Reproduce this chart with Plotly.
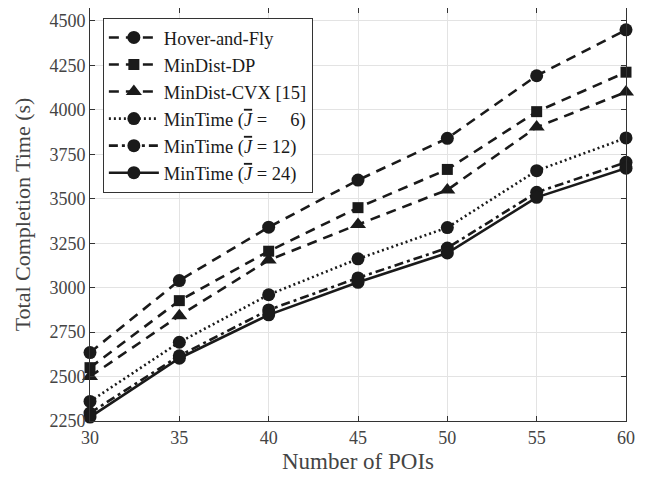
import plotly.graph_objects as go

pois = [30, 35, 40, 45, 50, 55, 60]
hover_and_fly = [2635, 3040, 3340, 3605, 3840, 4192, 4450]
mindist_dp = [2550, 2927, 3205, 3450, 3665, 3990, 4212]
mindist_cvx = [2500, 2842, 3155, 3355, 3550, 3903, 4100]
mintime_j6 = [2360, 2693, 2960, 3162, 3338, 3658, 3842]
mintime_j12 = [2295, 2617, 2875, 3055, 3223, 3536, 3705]
mintime_j24 = [2272, 2603, 2847, 3030, 3195, 3508, 3672]

jbar = '<i><span style="text-decoration:overline">J</span></i>'
series = [
    ("Hover-and-Fly", hover_and_fly, "dash", "circle"),
    ("MinDist-DP", mindist_dp, "dash", "square"),
    ("MinDist-CVX [15]", mindist_cvx, "dash", "triangle-up"),
    ("MinTime (" + jbar + " = \u2007\u20076)", mintime_j6, "dot", "circle"),
    ("MinTime (" + jbar + " = 12)", mintime_j12, "dashdot", "circle"),
    ("MinTime (" + jbar + " = 24)", mintime_j24, "solid", "circle"),
]
dash_map = {"dash": "10px,7px", "dot": "2px,3px", "dashdot": "9px,4px,3px,4px", "solid": "solid"}
msize = {"circle": 13, "square": 11, "triangle-up": 14}

fig = go.Figure()
for name, vals, dash, sym in series:
    fig.add_trace(go.Scatter(
        x=pois, y=vals, name=name, mode="lines+markers",
        line=dict(color="#1a1a1a", width=2.6, dash=dash_map[dash]),
        marker=dict(symbol=sym, size=msize[sym], color="#1a1a1a"),
        cliponaxis=False,
    ))

font = "Liberation Serif, DejaVu Serif, serif"
axis_common = dict(
    showline=True, linecolor="#333333", linewidth=1, mirror="ticks",
    ticks="inside", ticklen=5, tickcolor="#333333",
    showgrid=True, gridcolor="#e3e3e3", gridwidth=1, zeroline=False,
    tickfont=dict(family=font, size=18, color="#444444"),
    automargin=False,
)
fig.update_xaxes(range=[30, 60], tickvals=pois, **axis_common,
                 title=dict(text="Number of POIs", font=dict(family=font, size=23, color="#444444"), standoff=12))
fig.update_yaxes(range=[2250, 4573], tickvals=list(range(2250, 4501, 250)), **axis_common,
                 title=dict(text="Total Completion Time (s)", font=dict(family=font, size=22, color="#444444"), standoff=12))

# page body adds an 8px margin, so the figure is sized to fit inside it
fig.update_layout(
    width=636, height=466,
    margin=dict(l=82, r=18, t=0, b=53),
    plot_bgcolor="white", paper_bgcolor="white",
    showlegend=True,
    legend=dict(x=0.024, y=0.976, xanchor="left", yanchor="top",
                bgcolor="white", bordercolor="#333333", borderwidth=1,
                font=dict(family=font, size=18.5, color="#1a1a1a"),
                tracegroupgap=0, itemwidth=50),
)
fig.write_html("out.html")
